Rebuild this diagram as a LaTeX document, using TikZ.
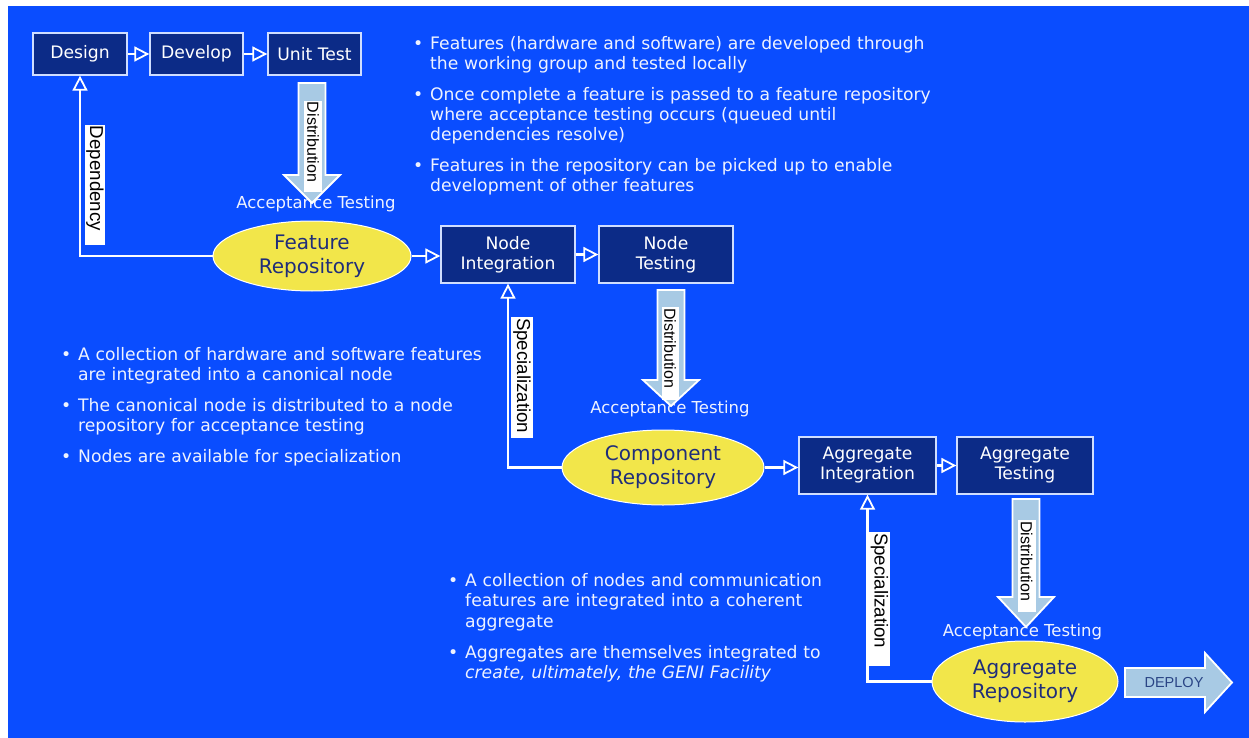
\documentclass[tikz,border=0pt]{standalone}
\usepackage{fontspec}
\setmainfont{DejaVu Sans}
\newfontfamily\arialf{Liberation Sans}
\usetikzlibrary{arrows.meta,shapes.geometric}
\definecolor{bgblue}{HTML}{0A4DFF}
\definecolor{boxfill}{HTML}{0C2B87}
\definecolor{boxline}{HTML}{D0DEFF}
\definecolor{yel}{HTML}{F2E64A}
\definecolor{navytext}{HTML}{1F2D7A}
\definecolor{arrfill}{HTML}{A8CAE4}
\definecolor{txtwhite}{HTML}{EEF2FF}
\definecolor{deploytext}{HTML}{2A4585}
\newcommand\bitem[1]{\leftskip=24pt\noindent\llap{\makebox[24pt][c]{\textbullet}}#1\par}
\newcommand\distarrow[4]{% cx, top, headstart, tip
  \draw[bigarrow] ({#1-13.5},#2) -- ({#1+13.5},#2) -- ({#1+13.5},#3) -- ({#1+28},#3)
    -- (#1,#4) -- ({#1-28},#3) -- ({#1-13.5},#3) -- cycle;}
\begin{document}
\begin{tikzpicture}[x=1pt,y=-1pt,
  box/.style={draw=boxline, line width=1.3pt, fill=boxfill, text=white, inner sep=0pt, align=center, font=\fontsize{17.2}{20}\selectfont},
  repo/.style={ellipse, draw=white, line width=1pt, fill=yel, text=navytext, inner sep=0pt, align=center, font=\fontsize{20}{24}\selectfont},
  conn/.style={draw=white, line width=2.4pt, -{Triangle[open, length=15pt, width=15pt, line width=1.8pt]}},
  acc/.style={text=txtwhite, font=\fontsize{16.5}{20}\selectfont, anchor=base, inner sep=0pt},
  bullets/.style={text=txtwhite, anchor=base west, inner sep=0pt, align=left, font=\fontsize{17.2}{20}\selectfont},
  lab/.style={fill=white, text=black, rotate=-90, inner xsep=1pt, inner ysep=0pt, align=left, font=\arialf\fontsize{18.7}{20}\selectfont},
  distlab/.style={lab, font=\arialf\fontsize{16}{16}\selectfont},
  bigarrow/.style={draw=white, line width=1.8pt, fill=arrfill, line join=miter},
]
\useasboundingbox (0,0) rectangle (1249,738);
\fill[white] (0,0) rectangle (1249,738);
\fill[bgblue] (8,6) rectangle (1249,738);

% bullet texts
\node[bullets, text width=560pt] (t1) at (406,50) {\bitem{Features (hardware and software) are developed through\\the working group and tested locally}\vspace{11pt}\bitem{Once complete a feature is passed to a feature repository\\where acceptance testing occurs (queued until\\dependencies resolve)}\vspace{11pt}\bitem{Features in the repository can be picked up to enable\\development of other features}};

\node[bullets, text width=480pt] (t2) at (54,360) {\bitem{A collection of hardware and software features\\are integrated into a canonical node}\vspace{11pt}\bitem{The canonical node is distributed to a node\\repository for acceptance testing}\vspace{11pt}\bitem{Nodes are available for specialization}};

\node[bullets, text width=420pt, font=\fontsize{17.2}{20.5}\selectfont] (t3) at (441,586) {\bitem{A collection of nodes and communication\\features are integrated into a coherent\\aggregate}\vspace{10.5pt}\bitem{Aggregates are themselves integrated to\\\textit{create, ultimately, the GENI Facility}}};

% acceptance testing labels
\node[acc] (acc1) at (316,208) {Acceptance Testing};
\node[acc] (acc2) at (670,413) {Acceptance Testing};
\node[acc] (acc3) at (1022.5,636) {Acceptance Testing};

% boxes
\node[box, minimum width=94pt, minimum height=42pt] (des) at (80,54) {Design};
\node[box, minimum width=93pt, minimum height=42pt] (dev) at (196.5,54) {Develop};
\node[box, minimum width=93pt, minimum height=42pt] (ut) at (314.5,54) {Unit Test};
\node[box, minimum width=134pt, minimum height=57pt] (ni) at (508,254.5) {Node\\Integration};
\node[box, minimum width=134pt, minimum height=57pt] (nt) at (666,254.5) {Node\\Testing};
\node[box, minimum width=137pt, minimum height=57pt] (ai) at (867.5,465.5) {Aggregate\\Integration};
\node[box, minimum width=136pt, minimum height=57pt] (aggt) at (1025,465.5) {Aggregate\\Testing};

% repositories
\node[repo, minimum width=198pt, minimum height=70pt] (fr) at (312,256) {Feature\\Repository};
\node[repo, minimum width=202pt, minimum height=75pt] (cr) at (663,467.5) {Component\\Repository};
\node[repo, minimum width=186pt, minimum height=81pt] (ar) at (1025,681.5) {Aggregate\\Repository};

% connectors
\draw[conn] (des.east) -- (dev.west);
\draw[conn] (dev.east) -- (ut.west);
\draw[conn] (fr.west) -| (des.south);
\draw[conn] (fr.east) -- (fr.east -| ni.west);
\draw[conn] (ni.east) -- (nt.west);
\draw[conn] (cr.west) -| (ni.south);
\draw[conn] (cr.east) -- (cr.east -| ai.west);
\draw[conn] (ai.east) -- (aggt.west);
\draw[conn] (ar.west) -| (ai.south);

% distribution arrows
\distarrow{312}{83}{175}{203}
\distarrow{671}{290}{380}{406}
\distarrow{1026}{499}{597}{627}

% labels
\node[lab, text width=118pt, minimum height=20pt] (deplab) at (95,185) {Dependency};
\node[lab, text width=119pt, minimum height=22pt] (spec1) at (522,377.5) {Specialization};
\node[lab, text width=132pt, minimum height=21pt] (spec2) at (879.5,599) {Specialization};
\node[distlab, text width=89pt, minimum height=18pt] (dist1) at (313,146.5) {Distribution};
\node[distlab, text width=91pt, minimum height=17pt] (dist2) at (670,353.5) {Distribution};
\node[distlab, text width=90pt, minimum height=18pt] (dist3) at (1026.5,566) {Distribution};

% deploy
\draw[bigarrow] (1125,668) -- (1205,668) -- (1205,653) -- (1232,682.5) -- (1205,712) -- (1205,697) -- (1125,697) -- cycle;
\node[font=\arialf\fontsize{14.5}{16}\selectfont, text=deploytext, inner sep=0pt] (deploy) at (1174,683) {DEPLOY};
\end{tikzpicture}
\end{document}
